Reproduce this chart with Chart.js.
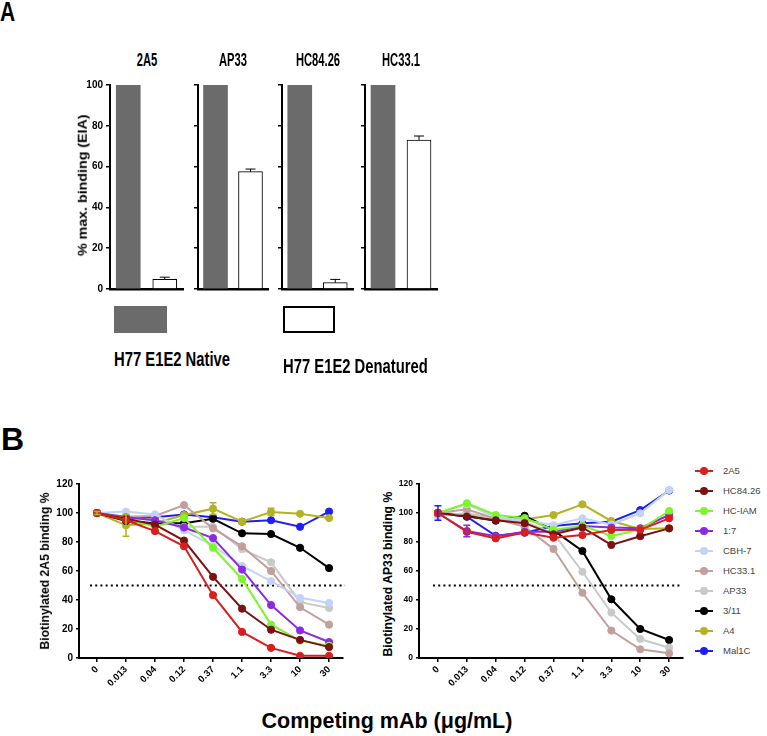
<!DOCTYPE html>
<html><head><meta charset="utf-8">
<script src="https://cdn.jsdelivr.net/npm/chart.js@4.4.0/dist/chart.umd.min.js"></script>
<style>
body{margin:0;width:767px;height:736px;position:relative;background:#fff;overflow:hidden;}
.t{position:absolute;white-space:nowrap;line-height:1;color:#000;}
.ab{font-family:"Liberation Sans",Arial,sans-serif;font-weight:bold;}
canvas{position:absolute;}
.leg{position:absolute;left:695px;height:12px;font-family:"Liberation Sans",Arial,sans-serif;font-size:9.5px;color:#444;}
.leg .ln{position:absolute;left:0;top:5px;width:18px;height:2px;}
.leg .dt{position:absolute;left:5px;top:2px;width:8px;height:8px;border-radius:50%;}
.leg .tx{position:absolute;left:28px;top:1px;white-space:nowrap;line-height:1;}
</style></head>
<body>
<div class="t ab" style="left:0px;top:-2px;font-size:28px;transform:scaleX(0.75);transform-origin:0 0;">A</div>
<div class="t ab" style="left:1px;top:423px;font-size:32px;">B</div>

<canvas id="a0" width="150" height="225" style="left:40px;top:75px"></canvas>
<canvas id="a1" width="84" height="225" style="left:188px;top:75px"></canvas>
<canvas id="a2" width="84" height="225" style="left:274px;top:75px"></canvas>
<canvas id="a3" width="84" height="225" style="left:358px;top:75px"></canvas>

<div id="ylabA" class="t ab" style="font-size:12.5px;width:200px;text-align:center;left:-17px;top:179px;transform:rotate(-90deg) scaleX(1.14);">% max. binding (EIA)</div>

<div style="position:absolute;left:114px;top:306px;width:53px;height:27px;background:#6b6b6b;"></div>
<div style="position:absolute;left:283px;top:306px;width:48px;height:23px;border:2px solid #000;background:#fff;"></div>

<canvas id="b0" width="300" height="226" style="left:50px;top:474px"></canvas>
<canvas id="b1" width="295" height="226" style="left:395px;top:474px"></canvas>

<div class="t ab" style="font-size:12.2px;width:220px;text-align:center;left:-65px;top:565px;transform:rotate(-90deg);">Biotinylated 2A5 binding %</div>
<div class="t ab" style="font-size:12.2px;width:220px;text-align:center;left:278px;top:568px;transform:rotate(-90deg);">Biotinylated AP33 binding %</div>
<div class="t ab" style="font-size:21.5px;width:320px;text-align:center;left:227px;top:711px;">Competing mAb (μg/mL)</div>
<div id="legend"></div>

<script>
// ---------- Panel A data ----------
const barTitles = ['2A5', 'AP33', 'HC84.26', 'HC33.1'];
const barGroups = ['H77 E1E2 Native', 'H77 E1E2 Denatured'];
const barNative = [100, 100, 100, 100];
const barDenatured = [4.8, 57.5, 3.1, 73];
const barDenaturedErr = [1.0, 1.3, 1.6, 2.0];

// ---------- Panel B data ----------
const concLabels = ['0', '0.013', '0.04', '0.12', '0.37', '1.1', '3.3', '10', '30'];
const seriesNames = ['2A5', 'HC84.26', 'HC-IAM', '1:7', 'CBH-7', 'HC33.1', 'AP33', '3/11', 'A4', 'Mal1C'];
// competition of biotinylated 2A5
const l_2A5    = [100, 95, 87.5, 77, 43.3, 18, 7, 1.5, 1.5];
const l_HC8426 = [100, 96, 92, 81, 56, 34, 19.5, 12.5, 7.5];
const l_HCIAM  = [100, 96, 90.5, 96.5, 76, 54.5, 23, 12, 8.5];
const l_1_7    = [100, 97, 95, 90, 82.7, 61, 36.5, 19, 11];
const l_CBH7   = [100, 101, 99, 88, 77.5, 63.5, 53, 41.5, 38];
const l_HC331  = [100, 97.5, 98, 105.5, 89.4, 77, 60, 35, 23];
const l_AP33   = [100, 97, 95, 90.5, 90.5, 75, 66, 38.5, 34.5];
const l_3_11   = [100, 94.5, 93, 93, 96, 86, 85.5, 76, 62];
const l_A4     = [100, 91.5, 93, 98.6, 103, 94, 100.7, 99.5, 96.5];
const l_Mal1C  = [100, 96, 97, 99, 97, 94, 95, 90.5, 101];
const l_A4_err = [1, 7.5, 0, 0, 4, 1.5, 2.5, 0, 0];
// competition of biotinylated AP33
const r_2A5    = [100, 87, 82.5, 86.5, 83, 84.8, 88.3, 88.5, 96.3];
const r_HC8426 = [100, 97.5, 95, 93, 85.3, 90, 78, 84, 89.4];
const r_HCIAM  = [100, 106.7, 98.6, 96.5, 88.3, 91.3, 84.1, 88.5, 101.4];
const r_1_7    = [100, 87.6, 84, 87, 87, 91, 90, 89.5, 98.6];
const r_CBH7   = [100, 106, 97, 95, 91.7, 96.3, 92, 99.8, 115.9];
const r_HC331  = [100, 102.5, 96, 90.5, 75.2, 45, 18.9, 6, 3.2];
const r_AP33   = [98, 100, 96, 94, 86, 59.5, 31.3, 13.1, 7.1];
const r_3_11   = [100, 98, 94.7, 98.1, 88, 73.8, 40.5, 20, 12.4];
const r_A4     = [100, 99, 96.3, 95.6, 98.6, 106, 94.5, 89, 89.4];
const r_Mal1C  = [100, 97.4, 84.3, 86.4, 91, 93, 94, 102, 115.5];
const r_Mal1C_err = [5, 0, 0, 0, 0, 0, 0, 0, 0];
const r_1_7_err   = [0, 4, 0, 0, 0, 0, 0, 0, 0];

// ---------- styles ----------
const seriesColors = ['#d81e1e', '#7b1111', '#7ef52a', '#8a2be2', '#c3d3f7', '#c29f9c', '#c9c9c9', '#000000', '#b3b324', '#1f1ff5'];
const arial = '"Liberation Sans",Arial,sans-serif';
Chart.defaults.animation = false;
Chart.defaults.devicePixelRatio = 1;

const errPlugin = {
  id: 'errs',
  afterDatasetsDraw(chart) {
    const ctx = chart.ctx, ys = chart.scales.y;
    chart.data.datasets.forEach((ds, di) => {
      if (!ds.errs) return;
      const meta = chart.getDatasetMeta(di);
      ds.errs.forEach((e, i) => {
        if (!e) return;
        const el = meta.data[i];
        const d = ds.data[i];
        const v = (typeof d === 'object') ? d.y : d;
        const yTop = ys.getPixelForValue(v + e);
        const yBot = ys.getPixelForValue(ds.errUp ? v : v - e);
        const cap = ds.errCap || 4;
        ctx.save();
        ctx.strokeStyle = ds.errColor || ds.borderColor;
        ctx.lineWidth = ds.errWidth || 1.5;
        ctx.beginPath();
        ctx.moveTo(el.x, yTop); ctx.lineTo(el.x, yBot);
        ctx.moveTo(el.x - cap, yTop); ctx.lineTo(el.x + cap, yTop);
        if (!ds.errUp) { ctx.moveTo(el.x - cap, yBot); ctx.lineTo(el.x + cap, yBot); }
        ctx.stroke();
        ctx.restore();
      });
    });
  }
};

const refLine = {
  id: 'refLine',
  beforeDatasetsDraw(chart, args, opts) {
    if (opts.value == null) return;
    const ctx = chart.ctx, xs = chart.scales.x, ys = chart.scales.y;
    const py = ys.getPixelForValue(opts.value);
    ctx.save();
    ctx.strokeStyle = '#000';
    ctx.lineWidth = 2;
    ctx.setLineDash([2, 3.2]);
    ctx.beginPath();
    ctx.moveTo(xs.getPixelForValue(opts.from), py);
    ctx.lineTo(xs.getPixelForValue(opts.to), py);
    ctx.stroke();
    ctx.restore();
  }
};

// ---------- Panel A ----------
const aCanvas = [{l:40,t:75,w:150,h:225},{l:188,t:75,w:84,h:225},{l:274,t:75,w:84,h:225},{l:358,t:75,w:84,h:225}];
const aArea = [{L:110,R:183},{L:198,R:268},{L:282,R:353},{L:365,R:437}];
const aTop = 85, aBot = 289;
barTitles.forEach((title, k) => {
  const c = aCanvas[k], a = aArea[k];
  const yW = a.L - c.l, padR = c.l + c.w - a.R, padT = aTop - c.t, xH = c.t + c.h - aBot;
  new Chart(document.getElementById('a' + k), {
    type: 'bar',
    data: {
      labels: barGroups,
      datasets: [{
        data: [barNative[k], barDenatured[k]],
        errs: [0, barDenaturedErr[k]],
        errUp: true, errColor: '#000', errWidth: 1, errCap: 5,
        backgroundColor: ['#6b6b6b', '#ffffff'],
        borderColor: ['#6b6b6b', '#000000'],
        borderWidth: [0, 1],
        borderSkipped: 'bottom',
        barThickness: 24
      }]
    },
    options: {
      responsive: false,
      layout: { padding: { left: 0, right: padR, top: padT, bottom: 0 } },
      plugins: { legend: { display: false }, tooltip: { enabled: false } },
      scales: {
        x: {
          ticks: { display: false },
          grid: { display: false },
          border: { display: true, color: '#000', width: 2.5 },
          afterFit: s => { s.height = xH; }
        },
        y: {
          min: 0, max: 100,
          ticks: { stepSize: 20, display: k === 0, color: '#000', padding: 3,
                   font: { family: arial, size: 10, weight: 'bold' } },
          grid: { display: true, drawOnChartArea: false, drawTicks: true, tickLength: 4, color: '#000', lineWidth: 1.5 },
          border: { display: true, color: '#000', width: 2 },
          afterFit: s => { s.width = yW; }
        }
      }
    },
    plugins: [errPlugin]
  });
  const d = document.createElement('div');
  d.className = 't ab';
  d.textContent = title;
  d.style.cssText = `left:${(a.L + a.R) / 2 - 50}px;top:52px;width:100px;text-align:center;font-size:17.5px;transform:scaleX(0.64);transform-origin:50% 0;`;
  document.body.appendChild(d);
});
barGroups.forEach((g, k) => {
  const d = document.createElement('div');
  d.className = 't ab';
  d.textContent = g;
  d.style.cssText = `left:${k ? 283 : 114}px;top:${k ? 354.5 : 347.5}px;font-size:21px;transform:scaleX(0.705);transform-origin:0 0;`;
  document.body.appendChild(d);
});

// ---------- Panel B ----------
function mkLine(id, canvasPos, area, series, errSets, xMin, xMax, refFrom, refTo, yFont) {
  const yW = area.L - canvasPos.l, padR = canvasPos.l + canvasPos.w - area.R;
  const padT = area.T - canvasPos.t, xH = canvasPos.t + canvasPos.h - area.B;
  const datasets = series.map((vals, i) => ({
    label: seriesNames[i],
    data: vals.map((v, j) => ({ x: j, y: v })),
    errs: errSets[i] || null,
    errCap: 3.5,
    borderColor: seriesColors[i],
    backgroundColor: seriesColors[i],
    pointBackgroundColor: seriesColors[i],
    pointBorderColor: seriesColors[i],
    borderWidth: 2,
    pointRadius: 3.6,
    pointBorderWidth: 1,
    tension: 0
  }));
  return new Chart(document.getElementById(id), {
    type: 'line',
    data: { datasets },
    options: {
      responsive: false,
      layout: { padding: { left: 0, right: padR, top: padT, bottom: 0 } },
      plugins: { legend: { display: false }, tooltip: { enabled: false },
                 refLine: { value: 50, from: refFrom, to: refTo } },
      scales: {
        x: {
          type: 'linear', min: xMin, max: xMax,
          afterBuildTicks: ax => { ax.ticks = concLabels.map((_, i) => ({ value: i })); },
          ticks: { autoSkip: false, minRotation: 45, maxRotation: 45, color: '#000', padding: 2,
                   font: { family: arial, size: 9.5, weight: 'bold' },
                   callback: v => concLabels[v] },
          grid: { display: true, drawOnChartArea: false, drawTicks: true, tickLength: 4, color: '#000', lineWidth: 1.5 },
          border: { display: true, color: '#000', width: 2 },
          afterFit: s => { s.height = xH; }
        },
        y: {
          min: 0, max: 120,
          ticks: { stepSize: 20, color: '#000', padding: 3, font: yFont },
          grid: { display: true, drawOnChartArea: false, drawTicks: true, tickLength: 3, color: '#000', lineWidth: 1.5 },
          border: { display: true, color: '#000', width: 2 },
          afterFit: s => { s.width = yW; }
        }
      }
    },
    plugins: [errPlugin, refLine]
  });
}

const leftSeries = [l_2A5, l_HC8426, l_HCIAM, l_1_7, l_CBH7, l_HC331, l_AP33, l_3_11, l_A4, l_Mal1C];
const rightSeries = [r_2A5, r_HC8426, r_HCIAM, r_1_7, r_CBH7, r_HC331, r_AP33, r_3_11, r_A4, r_Mal1C];
const leftErr = [null, null, null, null, null, null, null, null, l_A4_err, null];
const rightErr = [null, null, null, r_1_7_err, null, null, null, null, null, r_Mal1C_err];

mkLine('b0', {l:50, t:474, w:300, h:226}, {L:79, R:343, T:484, B:658}, leftSeries, leftErr,
       -0.62, 8.48, -0.24, 8.55, { family: arial, size: 10, weight: 'bold' });
mkLine('b1', {l:395, t:474, w:295, h:226}, {L:419, R:683, T:484, B:658}, rightSeries, rightErr,
       -0.655, 8.48, -0.17, 8.41, { family: arial, size: 8.5, weight: 'bold' });

// legend
const leg = document.getElementById('legend');
seriesNames.forEach((n, i) => {
  const row = document.createElement('div');
  row.className = 'leg';
  row.style.top = (465 + 20 * i) + 'px';
  row.innerHTML = `<div class="ln" style="background:${seriesColors[i]}"></div><div class="dt" style="background:${seriesColors[i]}"></div><div class="tx">${n}</div>`;
  leg.appendChild(row);
});
</script>
</body></html>
